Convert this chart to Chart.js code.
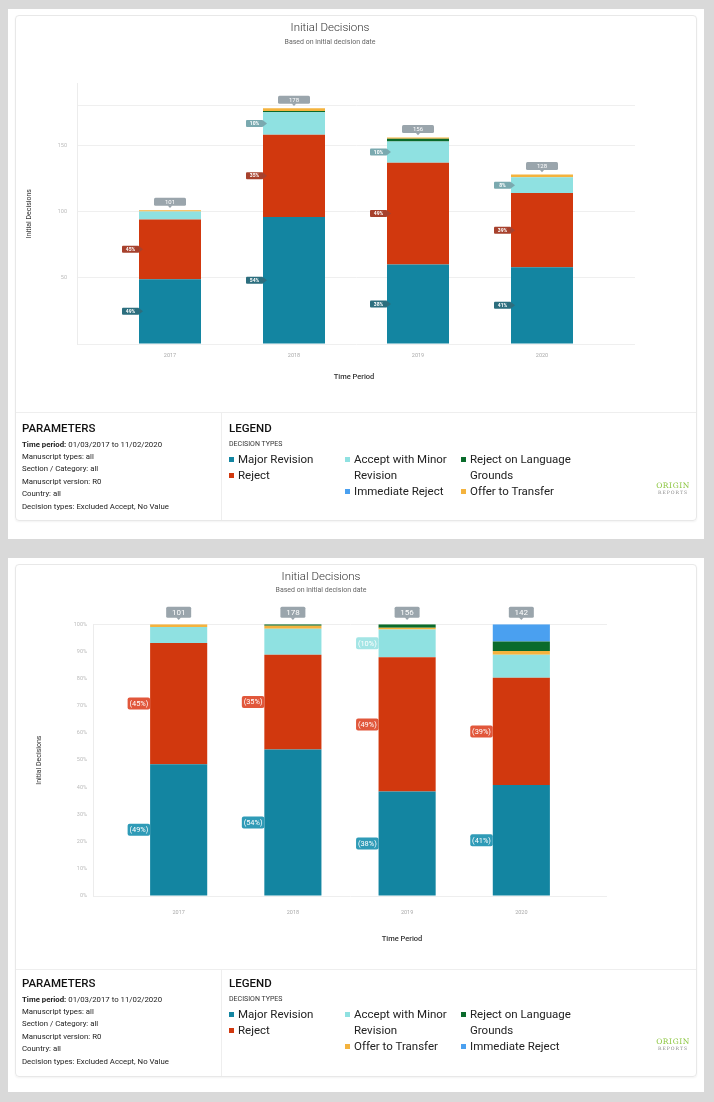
<!DOCTYPE html>
<html>
<head>
<meta charset="utf-8">
<script src="https://cdn.jsdelivr.net/npm/chart.js@4.4.1/dist/chart.umd.min.js"></script>
<style>
  html, body { margin: 0; padding: 0; background: #d9d9d9; font-family: Roboto, "Noto Sans", sans-serif; color: #222; }
  body { width: 714px; height: 1102px; position: relative; overflow: hidden; }
  .panel { position: absolute; left: 8px; width: 696px; background: #fff; }
  .card { position: absolute; left: 7px; width: 682px; box-sizing: border-box; border: 1px solid #e8e8e8; border-radius: 4px; box-shadow: 0 1px 2px rgba(0,0,0,0.05); }
  .chartBox { position: absolute; left: 0; top: 0; width: 680px; }
  .xTitle { position: absolute; font-size: 7.5px; font-weight: 500; color: #333; transform: translate(-50%, -50%); white-space: nowrap; }
  .footer { position: absolute; left: 0; right: 0; bottom: 0; border-top: 1px solid #eeeeee; }
  .params { position: absolute; left: 0; top: 0; bottom: 0; width: 206px; border-right: 1px solid #eeeeee; padding: 8px 0 0 6px; box-sizing: border-box; }
  .legend { position: absolute; left: 213px; top: 0; right: 0; bottom: 0; padding-top: 8px; }
  h3 { margin: 0; font-size: 11.5px; font-weight: 500; line-height: 14px; color: #111; }
  .params p { margin: 0; font-size: 7.8px; line-height: 12.4px; color: #222; }
  .params p:first-of-type { margin-top: 3.5px; }
  .params b { font-weight: 700; }
  .sub { font-size: 7px; line-height: 10px; margin-top: 4px; color: #333; }
  .cols { display: flex; margin-top: 2px; }
  .col { width: 116px; }
  .item { display: flex; font-size: 11.5px; line-height: 16px; color: #222; padding-right: 6px; }
  .item i { flex: none; width: 5px; height: 5px; margin: 5.5px 4px 0 0; }
  .logo { position: absolute; right: 6px; bottom: 24px; text-align: center; }
  .logo .o { font-family: "DejaVu Serif", "Liberation Serif", serif; font-size: 7.5px; color: #8cc63f; letter-spacing: 0.6px; line-height: 9px; }
  .logo .r { font-family: "DejaVu Serif", "Liberation Serif", serif; font-size: 4.6px; color: #8a8a8a; letter-spacing: 1px; line-height: 6px; }
</style>
</head>
<body>
<div class="panel" style="top:9px;height:530px;">
  <div class="card" style="top:6px;height:506px;">
    <div class="chartBox" style="height:398px;"><canvas id="countChart"></canvas></div>
    <div class="xTitle" style="left:338px;top:360px;">Time Period</div>
    <div class="footer" style="height:107px;">
      <div class="params">
        <h3>PARAMETERS</h3>
        <p><b>Time period:</b> 01/03/2017 to 11/02/2020</p>
        <p>Manuscript types: all</p>
        <p>Section / Category: all</p>
        <p>Manuscript version: R0</p>
        <p>Country: all</p>
        <p>Decision types: Excluded Accept, No Value</p>
      </div>
      <div class="legend">
        <h3>LEGEND</h3>
        <div class="sub">DECISION TYPES</div>
        <div class="cols" id="countLegend"></div>
      </div>
      <div class="logo"><div class="o">ORIGIN</div><div class="r">REPORTS</div></div>
    </div>
  </div>
</div>

<div class="panel" style="top:558px;height:534px;">
  <div class="card" style="top:6px;height:513px;">
    <div class="chartBox" style="height:408px;"><canvas id="shareChart"></canvas></div>
    <div class="xTitle" style="left:386px;top:373px;">Time Period</div>
    <div class="footer" style="height:106px;">
      <div class="params" style="padding-top:6px;">
        <h3>PARAMETERS</h3>
        <p><b>Time period:</b> 01/03/2017 to 11/02/2020</p>
        <p>Manuscript types: all</p>
        <p>Section / Category: all</p>
        <p>Manuscript version: R0</p>
        <p>Country: all</p>
        <p>Decision types: Excluded Accept, No Value</p>
      </div>
      <div class="legend" style="padding-top:6px;">
        <h3>LEGEND</h3>
        <div class="sub">DECISION TYPES</div>
        <div class="cols" id="shareLegend"></div>
      </div>
      <div class="logo"><div class="o">ORIGIN</div><div class="r">REPORTS</div></div>
    </div>
  </div>
</div>

<script>
// values
const years = ['2017', '2018', '2019', '2020'];
const majorRevision = [49, 96, 60, 58];
const reject = [45, 62, 77, 56];
const acceptMinor = [6, 17, 16, 12];
const offerToTransfer = [1, 2, 1, 2];
const rejectLanguage = [0, 1, 2, 5];
const immediateReject = [0, 0, 0, 9];
// the count chart leaves these out for 2020
const rejectLanguageCount = [0, 1, 2, 0];
const immediateRejectCount = [0, 0, 0, 0];

const countTicks = [0, 50, 100, 150, 180];
const countLabels = [50, 100, 150];
const countMax = 197;
const shareTicks = [0, 10, 20, 30, 40, 50, 60, 70, 80, 90, 100];

const colors = {
  major: '#1385a1',
  reject: '#d1380e',
  minor: '#8fe1e1',
  language: '#0a6b2b',
  offer: '#f4b33e',
  immediate: '#4aa0f0'
};

const sum = (arrays) => years.map((_, i) => arrays.reduce((s, a) => s + a[i], 0));
const fullTotals = sum([majorRevision, reject, acceptMinor, offerToTransfer, rejectLanguage, immediateReject]);
const countTotals = sum([majorRevision, reject, acceptMinor, offerToTransfer, rejectLanguageCount, immediateRejectCount]);
const pct = (arr) => arr.map((v, i) => v / fullTotals[i] * 100);

Chart.defaults.font.family = 'Roboto, "Noto Sans", sans-serif';
Chart.defaults.animation = false;

function roundRect(ctx, x, y, w, h, r) {
  ctx.beginPath();
  ctx.moveTo(x + r, y);
  ctx.lineTo(x + w - r, y);
  ctx.quadraticCurveTo(x + w, y, x + w, y + r);
  ctx.lineTo(x + w, y + h - r);
  ctx.quadraticCurveTo(x + w, y + h, x + w - r, y + h);
  ctx.lineTo(x + r, y + h);
  ctx.quadraticCurveTo(x, y + h, x, y + h - r);
  ctx.lineTo(x, y + r);
  ctx.quadraticCurveTo(x, y, x + r, y);
  ctx.closePath();
}

const tagPlugin = {
  id: 'tags',
  afterDatasetsDraw(chart, args, opts) {
    const ctx = chart.ctx;
    ctx.save();
    ctx.textAlign = 'center';
    ctx.textBaseline = 'middle';

    chart.data.datasets.forEach((ds, di) => {
      if (!ds.tagColor) return;
      chart.getDatasetMeta(di).data.forEach((bar, i) => {
        if (ds.pct[i] < opts.minPct) return;
        const left = bar.x - bar.width / 2;
        const midY = (bar.y + bar.base) / 2;
        const label = Math.round(ds.pct[i]) + '%';
        ctx.fillStyle = ds.tagColor;
        if (opts.arrow) {
          const w = 17, h = 7;
          roundRect(ctx, left - w, midY - h / 2, w, h, 1);
          ctx.fill();
          ctx.beginPath();
          ctx.moveTo(left - 0.5, midY - h / 2);
          ctx.lineTo(left + 4, midY);
          ctx.lineTo(left - 0.5, midY + h / 2);
          ctx.closePath();
          ctx.fill();
          ctx.fillStyle = '#fff';
          ctx.font = 'bold 5px Roboto, sans-serif';
          ctx.fillText(label, left - w / 2, midY + 0.3);
        } else {
          const w = 22.5, h = 12;
          roundRect(ctx, left - w, midY - h / 2, w, h, 2);
          ctx.fill();
          ctx.fillStyle = '#fff';
          ctx.font = '7.4px Roboto, sans-serif';
          ctx.fillText('(' + label + ')', left - w / 2, midY + 0.5);
        }
      });
    });

    // totals above each stack
    const meta = chart.getDatasetMeta(0);
    const yScale = chart.scales.y;
    opts.totals.forEach((total, i) => {
      const x = meta.data[i].x;
      const top = opts.atTop ? chart.chartArea.top : yScale.getPixelForValue(total);
      const {w, h, gap, size} = opts.box;
      const bottom = top - gap;
      ctx.fillStyle = '#9aa5ac';
      roundRect(ctx, x - w / 2, bottom - h, w, h, 1.5);
      ctx.fill();
      ctx.beginPath();
      ctx.moveTo(x - 2.5, bottom - 0.5);
      ctx.lineTo(x, bottom + 2.2);
      ctx.lineTo(x + 2.5, bottom - 0.5);
      ctx.closePath();
      ctx.fill();
      ctx.fillStyle = '#fff';
      ctx.font = size + 'px Roboto, sans-serif';
      ctx.fillText(String(total), x, bottom - h / 2 + 0.5);
    });
    ctx.restore();
  }
};

const points = (arr) => arr.map((v, i) => ({x: i, y: v}));

function buildChart(id, cfg) {
  return new Chart(document.getElementById(id), {
    type: 'bar',
    data: {datasets: cfg.datasets},
    options: {
      responsive: true,
      maintainAspectRatio: false,
      layout: {padding: cfg.padding},
      datasets: {bar: {categoryPercentage: 1, barPercentage: 0.5, borderWidth: 0}},
      plugins: {
        legend: {display: false},
        tooltip: {enabled: false},
        title: {
          display: true,
          text: 'Initial Decisions',
          color: '#333',
          font: {size: 11.5, weight: 300},
          padding: {top: 5, bottom: 0}
        },
        subtitle: {
          display: true,
          text: 'Based on initial decision date',
          color: '#666',
          font: {size: 7},
          padding: cfg.subtitlePadding
        },
        tags: cfg.tags
      },
      scales: {
        x: {
          type: 'linear',
          stacked: true,
          offset: false,
          min: -0.75,
          max: 3.75,
          afterBuildTicks: (scale) => { scale.ticks = years.map((_, i) => ({value: i})); },
          afterFit: (scale) => { scale.height = cfg.xHeight; },
          grid: {display: false, drawTicks: false},
          border: {display: false},
          ticks: {
            callback: (v) => years[v],
            color: '#aaa',
            font: {size: 5.5},
            padding: cfg.xTickPad,
            maxRotation: 0,
            autoSkip: false
          }
        },
        y: {
          stacked: true,
          min: 0,
          max: cfg.yMax,
          afterBuildTicks: (scale) => { scale.ticks = cfg.yTicks.map((v) => ({value: v})); },
          afterFit: (scale) => { scale.width = cfg.yWidth; },
          grid: {color: cfg.gridColor, drawTicks: false},
          border: {display: true, color: '#ececec'},
          title: {
            display: true,
            text: 'Initial Decisions',
            color: '#333',
            font: {size: 7},
            padding: 0
          },
          ticks: {
            callback: cfg.yLabel,
            color: '#bbb',
            font: {size: 5.5},
            padding: cfg.yTickPad,
            autoSkip: false
          }
        }
      }
    },
    plugins: [tagPlugin]
  });
}

const countSeries = [
  {label: 'Major Revision', data: majorRevision, color: colors.major, tag: '#2c6e7e'},
  {label: 'Reject', data: reject, color: colors.reject, tag: '#a7412d'},
  {label: 'Accept with Minor Revision', data: acceptMinor, color: colors.minor, tag: '#7aa9af'},
  {label: 'Immediate Reject', data: immediateRejectCount, color: colors.immediate},
  {label: 'Reject on Language Grounds', data: rejectLanguageCount, color: colors.language},
  {label: 'Offer to Transfer', data: offerToTransfer, color: colors.offer}
];

const shareSeries = [
  {label: 'Major Revision', data: majorRevision, color: colors.major, tag: '#2f9bb7'},
  {label: 'Reject', data: reject, color: colors.reject, tag: '#e1573b'},
  {label: 'Accept with Minor Revision', data: acceptMinor, color: colors.minor, tag: '#a3e5e5'},
  {label: 'Offer to Transfer', data: offerToTransfer, color: colors.offer},
  {label: 'Reject on Language Grounds', data: rejectLanguage, color: colors.language},
  {label: 'Immediate Reject', data: immediateReject, color: colors.immediate}
];

function fillLegend(id, series) {
  const box = document.getElementById(id);
  for (let c = 0; c < 3; c++) {
    const col = document.createElement('div');
    col.className = 'col';
    series.slice(c * 2, c * 2 + 2).forEach((s) => {
      const item = document.createElement('div');
      item.className = 'item';
      item.innerHTML = '<i style="background:' + s.color + '"></i><span>' + s.label + '</span>';
      col.appendChild(item);
    });
    box.appendChild(col);
  }
}

buildChart('countChart', {
  datasets: countSeries.map((s) => ({
    label: s.label,
    data: points(s.data),
    backgroundColor: s.color,
    tagColor: s.tag,
    pct: pct(s.data)
  })),
  padding: {left: 9, right: 61, top: 0, bottom: 0},
  subtitlePadding: {top: 3, bottom: 37},
  xHeight: 70,
  xTickPad: 8,
  yWidth: 52,
  yTickPad: 10,
  yMax: countMax,
  yTicks: countTicks,
  yLabel: (v) => (countLabels.includes(v) ? v : ''),
  gridColor: '#efefef',
  tags: {arrow: true, minPct: 8, totals: countTotals, atTop: false, box: {w: 32, h: 8, gap: 4.5, size: 6}}
});

buildChart('shareChart', {
  datasets: shareSeries.map((s) => ({
    label: s.label,
    data: points(pct(s.data)),
    backgroundColor: s.color,
    tagColor: s.tag,
    pct: pct(s.data)
  })),
  padding: {left: 19, right: 89, top: 0, bottom: 0},
  subtitlePadding: {top: 2, bottom: 30},
  xHeight: 77,
  xTickPad: 13,
  yWidth: 58,
  yTickPad: 6,
  yMax: 100,
  yTicks: shareTicks,
  yLabel: (v) => v + '%',
  gridColor: (c) => (c.tick && (c.tick.value === 0 || c.tick.value === 100) ? '#eeeeee' : 'rgba(0,0,0,0)'),
  tags: {arrow: false, minPct: 10, totals: fullTotals, atTop: true, box: {w: 25, h: 11, gap: 6.5, size: 8}}
});

fillLegend('countLegend', countSeries);
fillLegend('shareLegend', shareSeries);
</script>
</body>
</html>
